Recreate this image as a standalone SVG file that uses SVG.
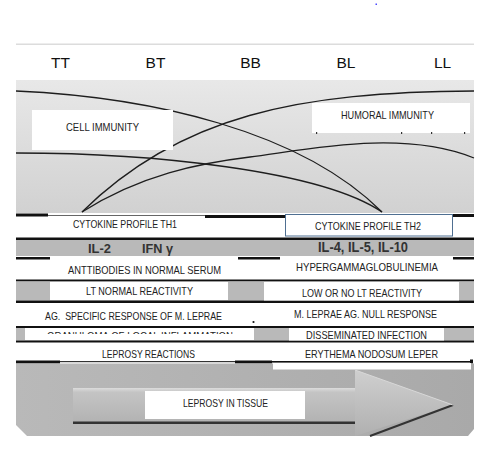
<svg xmlns="http://www.w3.org/2000/svg" width="497" height="456" viewBox="0 0 497 456">
<defs>
<linearGradient id="gTop" x1="0" y1="0" x2="0" y2="1"><stop offset="0" stop-color="#e8e8e8"/><stop offset="1" stop-color="#d1d1d1"/></linearGradient>
<linearGradient id="gBot" x1="0" y1="0" x2="1" y2="0"><stop offset="0" stop-color="#b9b9b9"/><stop offset="1" stop-color="#a9a9a9"/></linearGradient>
<linearGradient id="gShaft" x1="0" y1="0" x2="0" y2="1"><stop offset="0" stop-color="#dcdcdc"/><stop offset="0.12" stop-color="#c4c4c4"/><stop offset="1" stop-color="#b2b2b2"/></linearGradient>
<linearGradient id="gHead" x1="0" y1="0" x2="0" y2="1"><stop offset="0" stop-color="#cfcfcf"/><stop offset="1" stop-color="#b0b0b0"/></linearGradient>
<clipPath id="clipGran"><rect x="25" y="328" width="229" height="6"/></clipPath>
<style>
.lbl{font-family:"Liberation Sans",Arial,sans-serif;font-size:11px;fill:#222;text-anchor:middle}
.hdr{font-family:"Liberation Sans",Arial,sans-serif;font-size:15.5px;fill:#111;text-anchor:middle}
.il{font-weight:bold;font-size:13px;fill:#333}
.bar{fill:#111}
.grey{fill:#b9b9b9}
.box{fill:#fff}
.curve{fill:none;stroke:#1e1e1e;stroke-width:1.3}
</style>
</defs>
<rect x="0" y="0" width="497" height="456" fill="#fff"/>
<rect x="375.5" y="3.5" width="1.5" height="1.5" fill="#4a4aff"/>
<rect x="16" y="43.5" width="458" height="1.5" fill="#dcdcdc"/>
<g id="headers">
<text class="hdr" x="60.5" y="68">TT</text>
<text class="hdr" x="155.5" y="68">BT</text>
<text class="hdr" x="250.5" y="68">BB</text>
<text class="hdr" x="346" y="68">BL</text>
<text class="hdr" x="442.5" y="68">LL</text>
</g>
<rect x="16" y="80" width="458" height="133" fill="url(#gTop)"/>
<g id="connectors">
<path class="curve" d="M16,91 C150,97 300,130 382,212"/>
<path class="curve" d="M474,91 C300,92 180,115 82,212"/>
<path class="curve" d="M16,153 C150,153 320,170 382,212"/>
<path class="curve" d="M82,212 C140,175 200,163 250,157 C300,151 400,128 474,158"/>
</g>
<g id="cell-immunity">
<rect class="box" x="32" y="110" width="141" height="40"/>
<text class="lbl" x="102.5" y="131" textLength="73" lengthAdjust="spacingAndGlyphs">CELL IMMUNITY</text>
</g>
<g id="humoral-immunity">
<rect class="box" x="312" y="103" width="158" height="30"/>
<rect x="316" y="132" width="1.2" height="2" fill="#333"/>
<rect x="401" y="132" width="1.2" height="2" fill="#333"/>
<rect x="431" y="132" width="1.2" height="2" fill="#333"/>
<rect x="464" y="132" width="1.2" height="2" fill="#333"/>
<text class="lbl" x="387.5" y="119" textLength="93" lengthAdjust="spacingAndGlyphs">HUMORAL IMMUNITY</text>
</g>
<g id="rows-lines">
<rect class="bar" x="16" y="213.5" width="32" height="3"/>
<rect x="48" y="215" width="157" height="1" fill="#666"/>
<rect class="bar" x="205" y="215" width="80" height="3"/>
<rect class="bar" x="453" y="214" width="21" height="3"/>
<rect class="bar" x="16" y="237.5" width="458" height="2.5"/>
<rect class="grey" x="16" y="240" width="458" height="16"/>
<rect class="bar" x="16" y="257" width="34" height="2.5"/>
<rect class="bar" x="238" y="257" width="42" height="2.5"/>
<rect class="bar" x="453" y="257" width="21" height="2.5"/>
<rect class="bar" x="16" y="279.5" width="458" height="2"/>
<rect class="grey" x="16" y="281.5" width="458" height="19"/>
<rect class="bar" x="16" y="300.5" width="458" height="2.5"/>
<rect class="bar" x="16" y="326" width="458" height="2"/>
<rect class="grey" x="16" y="328" width="458" height="12.5"/>
<rect class="bar" x="16" y="340.5" width="458" height="2"/>
<rect class="bar" x="16" y="360.5" width="44" height="3"/>
<rect x="60" y="361" width="175" height="1.2" fill="#333"/>
<rect class="bar" x="235" y="360.5" width="37" height="3"/>
<rect class="bar" x="272" y="361" width="200" height="1.6"/>
<rect class="bar" x="470" y="359.5" width="3" height="4"/>
</g>
<g id="th1">
<text class="lbl" x="125" y="228" textLength="104" lengthAdjust="spacingAndGlyphs">CYTOKINE PROFILE TH1</text>
</g>
<g id="th2">
<rect x="285.5" y="214.5" width="167" height="21.5" fill="#fff" stroke="#4f6f91" stroke-width="1"/>
<text class="lbl" x="368" y="229.5" textLength="106" lengthAdjust="spacingAndGlyphs">CYTOKINE PROFILE TH2</text>
</g>
<g id="il-th1">
<text class="lbl il" x="99.5" y="252.5" textLength="23" lengthAdjust="spacingAndGlyphs">IL-2</text>
<text class="lbl il" x="157.5" y="252.5" textLength="31" lengthAdjust="spacingAndGlyphs">IFN γ</text>
</g>
<g id="il-th2">
<text class="lbl il" x="363" y="252" style="font-size:14px" textLength="90" lengthAdjust="spacingAndGlyphs">IL-4, IL-5, IL-10</text>
</g>
<g id="antibodies">
<text class="lbl" x="144.5" y="274" textLength="153" lengthAdjust="spacingAndGlyphs">ANTTIBODIES IN NORMAL SERUM</text>
</g>
<g id="hypergamma">
<text class="lbl" x="367" y="271" textLength="142" lengthAdjust="spacingAndGlyphs">HYPERGAMMAGLOBULINEMIA</text>
</g>
<g id="lt-normal">
<rect class="box" x="50" y="282" width="178" height="18"/>
<text class="lbl" x="139.5" y="295" textLength="107" lengthAdjust="spacingAndGlyphs">LT NORMAL REACTIVITY</text>
</g>
<g id="lt-low">
<rect class="box" x="264" y="282" width="195" height="18.5"/>
<text class="lbl" x="362" y="296.5" textLength="120" lengthAdjust="spacingAndGlyphs">LOW OR NO LT REACTIVITY</text>
</g>
<g id="ag-specific">
<text class="lbl" x="133.5" y="320" textLength="177" lengthAdjust="spacingAndGlyphs" xml:space="preserve">AG.  SPECIFIC RESPONSE OF M. LEPRAE</text>
<circle cx="253.5" cy="322" r="1.1" fill="#111"/>
</g>
<g id="ag-null">
<text class="lbl" x="365.5" y="318" textLength="143" lengthAdjust="spacingAndGlyphs">M. LEPRAE AG. NULL RESPONSE</text>
</g>
<g id="granuloma">
<rect class="box" x="25" y="328" width="229" height="12"/>
<text class="lbl" x="140" y="339.5" clip-path="url(#clipGran)" textLength="186" lengthAdjust="spacingAndGlyphs">GRANULOMA OF LOCAL INFLAMMATION</text>
</g>
<g id="disseminated">
<rect class="box" x="289" y="328" width="155" height="12.5"/>
<text class="lbl" x="366.5" y="338.5" textLength="121" lengthAdjust="spacingAndGlyphs">DISSEMINATED INFECTION</text>
</g>
<g id="reactions">
<text class="lbl" x="148.5" y="358" textLength="93" lengthAdjust="spacingAndGlyphs">LEPROSY REACTIONS</text>
</g>
<g id="erythema">
<text class="lbl" x="371.5" y="358" textLength="133" lengthAdjust="spacingAndGlyphs">ERYTHEMA NODOSUM LEPER</text>
</g>
<g id="tissue-panel">
<path d="M16,363.5 H474 V429 L468,436 H27 L16,425 Z" fill="url(#gBot)"/>
<rect class="box" x="273" y="363" width="198" height="6.5"/>
<rect x="73" y="388" width="282" height="35" fill="url(#gShaft)"/>
<rect x="73" y="421.5" width="282" height="2.5" fill="#333"/>
<polygon points="355,370 453,405 355,436" fill="url(#gHead)"/>
<line x1="453" y1="405" x2="370" y2="436" stroke="#333" stroke-width="2"/>
<line x1="355" y1="370" x2="453" y2="405" stroke="#d8d8d8" stroke-width="1"/>
<rect class="box" x="145" y="391" width="160" height="28"/>
<text class="lbl" x="225.5" y="407" textLength="85" lengthAdjust="spacingAndGlyphs">LEPROSY IN TISSUE</text>
</g>
</svg>
